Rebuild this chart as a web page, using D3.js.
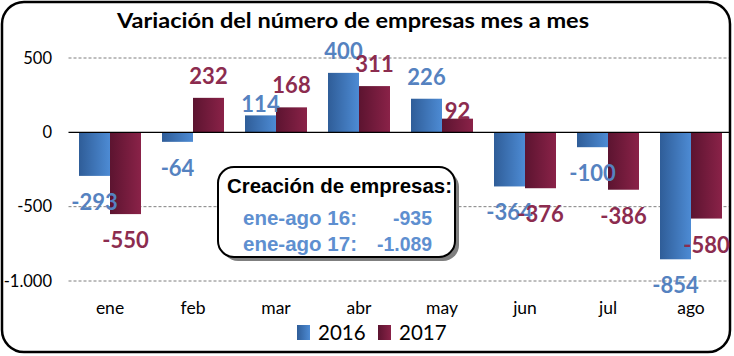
<!DOCTYPE html>
<html><head><meta charset="utf-8">
<script src="https://cdn.jsdelivr.net/npm/d3@7"></script>
<style>html,body{margin:0;padding:0;background:#fff}svg{display:block}</style>
</head><body>
<script>
const months = ["ene","feb","mar","abr","may","jun","jul","ago"];
const series = ["2016","2017"];
const values2016 = [-293,-64,114,400,226,-364,-100,-854];
const values2017 = [-550,232,168,311,92,-376,-386,-580];
const yTicks = [500,0,-500,-1000];
const yTickLabels = ["500","0","-500","-1.000"];
const boxTitle = "Creación de empresas:";
const boxRows = ["ene-ago 16:","ene-ago 17:"];
const boxVals = ["-935","-1.089"];
const title = "Variación del número de empresas mes a mes";

const W=734,H=356;
const svg=d3.select("body").append("svg").attr("width",W).attr("height",H);
const defs=svg.append("defs");
function grad(id,c0,c1){const g=defs.append("linearGradient").attr("id",id).attr("x1","0").attr("x2","1").attr("y1","0").attr("y2","0");
 g.append("stop").attr("offset","0").attr("stop-color",c0);g.append("stop").attr("offset","1").attr("stop-color",c1);}
grad("gb","#2f5d98","#4d8bd4");
grad("gm","#5c1430","#8a2248");
const barFill=["url(#gb)","url(#gm)"];
const labelCol=["#5582c0","#8c2c4f"];
const fmt=v=>(v<0?"-":"")+d3.format(",")(Math.abs(v)).replace(/,/g,".");

// outer border
svg.append("rect").attr("x",2).attr("y",2).attr("width",728).attr("height",350).attr("rx",22)
 .attr("fill","#fff").attr("stroke","#000").attr("stroke-width",2.5);

const x=d3.scaleBand().domain(months).range([68.5,732.5]).paddingInner(0).paddingOuter(0);
const y=d3.scaleLinear().domain([-1000,500]).range([281,58]);
const xs=d3.scaleBand().domain(series).range([0,62]);
const barOff=(x.bandwidth()-62)/2;

// grid
svg.append("g").selectAll("line").data(yTicks.filter(d=>d!==0)).join("line")
 .attr("x1",68.5).attr("x2",729).attr("y1",d=>y(d)).attr("y2",d=>y(d))
 .attr("stroke","#7f7f7f").attr("stroke-width",1).attr("stroke-dasharray","3,2");

// y axis labels
const yAxis=d3.axisLeft(y).tickValues(yTicks).tickSize(0).tickPadding(0)
 .tickFormat(d=>yTickLabels[yTicks.indexOf(d)]);
const ya=svg.append("g").attr("transform","translate(52,0)").call(yAxis);
ya.select(".domain").remove();
ya.selectAll("text").attr("font-family","Lato, sans-serif").attr("font-size",16.5).attr("fill","#000");

// bars
const data=[];
months.forEach((m,i)=>{data.push({m,s:"2016",v:values2016[i],k:0,i});data.push({m,s:"2017",v:values2017[i],k:1,i});});
svg.append("g").selectAll("rect").data(data).join("rect")
 .attr("x",d=>x(d.m)+barOff+xs(d.s)).attr("width",xs.bandwidth())
 .attr("y",d=>Math.min(y(d.v),y(0))).attr("height",d=>Math.abs(y(d.v)-y(0)))
 .attr("fill",d=>barFill[d.k]);

// zero line
svg.append("line").attr("x1",68.5).attr("x2",729).attr("y1",y(0)).attr("y2",y(0)).attr("stroke","#000").attr("stroke-width",1.3);

// x labels
const xAxis=d3.axisBottom(x).tickSize(0).tickPadding(0);
const xa=svg.append("g").attr("transform","translate(0,302)").call(xAxis);
xa.select(".domain").remove();
xa.selectAll("text").attr("font-family","Lato, sans-serif").attr("font-size",17.5).attr("fill","#000").attr("dy","0.71em");

// data labels (small nudges where Excel avoided collisions)
const nudge={"0-2":-11,"1-4":-14};
svg.append("g").selectAll("text").data(data).join("text")
 .attr("x",d=>x(d.m)+barOff+xs(d.s)+xs.bandwidth()/2)
 .attr("y",d=>{const n=nudge[d.k+"-"+d.i]||0;return d.v>=0? y(d.v)-14-n : y(d.v)+34;})
 .attr("text-anchor","middle").attr("font-family","Lato, sans-serif").attr("font-weight","bold")
 .attr("font-size",22).attr("fill",d=>labelCol[d.k]).text(d=>fmt(d.v));

// title
svg.append("text").attr("x",353).attr("y",28).attr("text-anchor","middle")
 .attr("font-family","Lato, sans-serif").attr("font-weight","bold").attr("font-size",21)
 .attr("textLength",472).attr("lengthAdjust","spacingAndGlyphs").text(title);

// annotation box
svg.append("rect").attr("x",222).attr("y",171).attr("width",237).attr("height",90).attr("rx",16).attr("fill","#7f7f7f");
svg.append("rect").attr("x",218).attr("y",167).attr("width",237).attr("height",90).attr("rx",16)
 .attr("fill","#fff").attr("stroke","#000").attr("stroke-width",2);
const bf="'Liberation Sans', Arial, sans-serif";
svg.append("text").attr("x",227).attr("y",193).attr("font-family",bf)
 .attr("font-weight","bold").attr("font-size",21).attr("textLength",225).attr("lengthAdjust","spacingAndGlyphs").text(boxTitle);
const valW=[39,55];
boxRows.forEach((r,i)=>{
 const by=225+i*25.5;
 svg.append("text").attr("x",243).attr("y",by).attr("font-family",bf)
  .attr("font-weight","bold").attr("font-size",21).attr("fill","#5e8fd0").attr("textLength",114).attr("lengthAdjust","spacingAndGlyphs").text(r);
 svg.append("text").attr("x",432-valW[i]).attr("y",by).attr("font-family",bf)
  .attr("font-weight","bold").attr("font-size",21).attr("fill","#5e8fd0").attr("textLength",valW[i]).attr("lengthAdjust","spacingAndGlyphs").text(boxVals[i]);
});

// legend
const leg=svg.append("g");
series.forEach((s,i)=>{
 const lx=297+i*81;
 leg.append("rect").attr("x",lx).attr("y",325).attr("width",13).attr("height",15).attr("fill",barFill[i]);
 leg.append("text").attr("x",lx+21).attr("y",340).attr("font-family","Lato, sans-serif").attr("font-size",20.5).text(s);
});
</script>
</body></html>
